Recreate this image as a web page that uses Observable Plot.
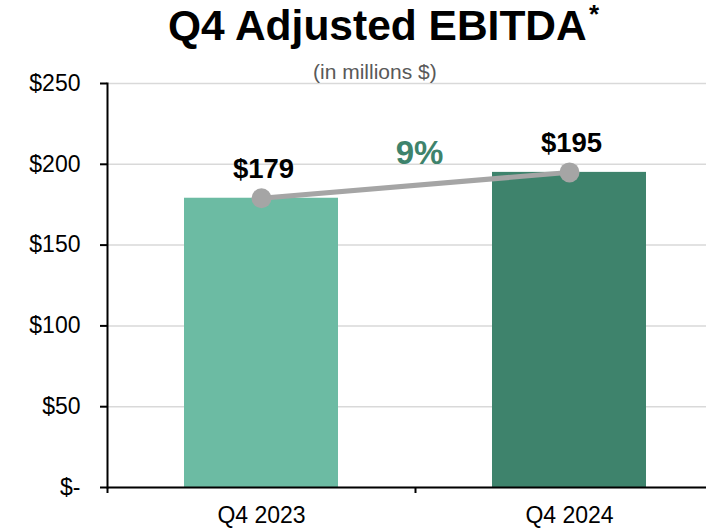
<!DOCTYPE html>
<html>
<head>
<meta charset="utf-8">
<script src="https://cdn.jsdelivr.net/npm/d3@7"></script>
<script src="https://cdn.jsdelivr.net/npm/@observablehq/plot@0.6"></script>
<style>
  body { margin: 0; background: #fff; font-family: "Liberation Sans", Arial, sans-serif; }
  #wrap { position: relative; width: 706px; height: 529px; overflow: hidden; }
  #title { position: absolute; left: 168px; top: 5px; font-size: 42.5px; font-weight: bold; line-height: 1; color: #000; white-space: nowrap; }
  #star { position: absolute; left: 589px; top: 1px; font-size: 26px; font-weight: bold; line-height: 1; color: #000; }
  #sub { position: absolute; left: 313px; top: 61px; font-size: 21px; line-height: 1; color: #595959; white-space: nowrap; }
  #chart { position: absolute; left: 0; top: 0; }
</style>
</head>
<body>
<div id="wrap">
  <div id="chart"></div>
  <div id="title">Q4 Adjusted EBITDA</div>
  <div id="star">*</div>
  <div id="sub">(in millions $)</div>
</div>
<script>
const categories = ["Q4 2023", "Q4 2024"];
const values = [179, 195];
const barColors = ["#6cbba3", "#3e836c"];
const yTicks = [0, 50, 100, 150, 200, 250];
const growthLabel = "9%";

const data = categories.map((c, i) => ({cat: c, value: values[i]}));
const midValue = d3.mean(values);

const chart = Plot.plot({
  width: 706,
  height: 529,
  marginTop: 83,
  marginBottom: 42,
  marginLeft: 107,
  marginRight: 0,
  style: {fontFamily: "'Liberation Sans', Arial, sans-serif", fontSize: "23px", color: "#000", background: "transparent"},
  x: {domain: categories, range: [107, 723], paddingInner: 0.5, paddingOuter: 0.25, label: null},
  y: {domain: [0, 250], label: null},
  color: {domain: categories, range: barColors},
  marks: [
    Plot.gridY(yTicks, {stroke: "#d9d9d9", strokeOpacity: 1, strokeWidth: 1.5}),
    Plot.barY(data, {x: "cat", y: "value", fill: "cat"}),
    Plot.ruleY([0], {stroke: "#000", strokeWidth: 2}),
    Plot.frame({anchor: "left", stroke: "#000", strokeWidth: 2}),
    Plot.axisY(yTicks, {tickSize: 7, tickPadding: 20, strokeWidth: 2, fontSize: 23,
      tickFormat: d => d === 0 ? "$-" : "$" + d}),
    Plot.axisX({tickSize: 6, dx: -154, text: null, strokeWidth: 2}),
    Plot.axisX({tickSize: 0, tickPadding: 19, fontSize: 23}),
    Plot.line(data, {x: "cat", y: "value", stroke: "#a5a5a5", strokeWidth: 5}),
    Plot.dot(data, {x: "cat", y: "value", r: 10, fill: "#a5a5a5"}),
    Plot.text(data, {x: "cat", y: "value", text: d => "$" + d.value, dy: -29, dx: 2,
      fontSize: 27.5, fontWeight: "bold", fill: "#000"}),
    Plot.text([growthLabel], {x: () => categories[1], y: () => midValue, text: d => d,
      dx: -150, dy: -32, fontSize: 33, fontWeight: "bold", fill: "#3e836c"})
  ]
});
document.getElementById("chart").appendChild(chart);
</script>
</body>
</html>
